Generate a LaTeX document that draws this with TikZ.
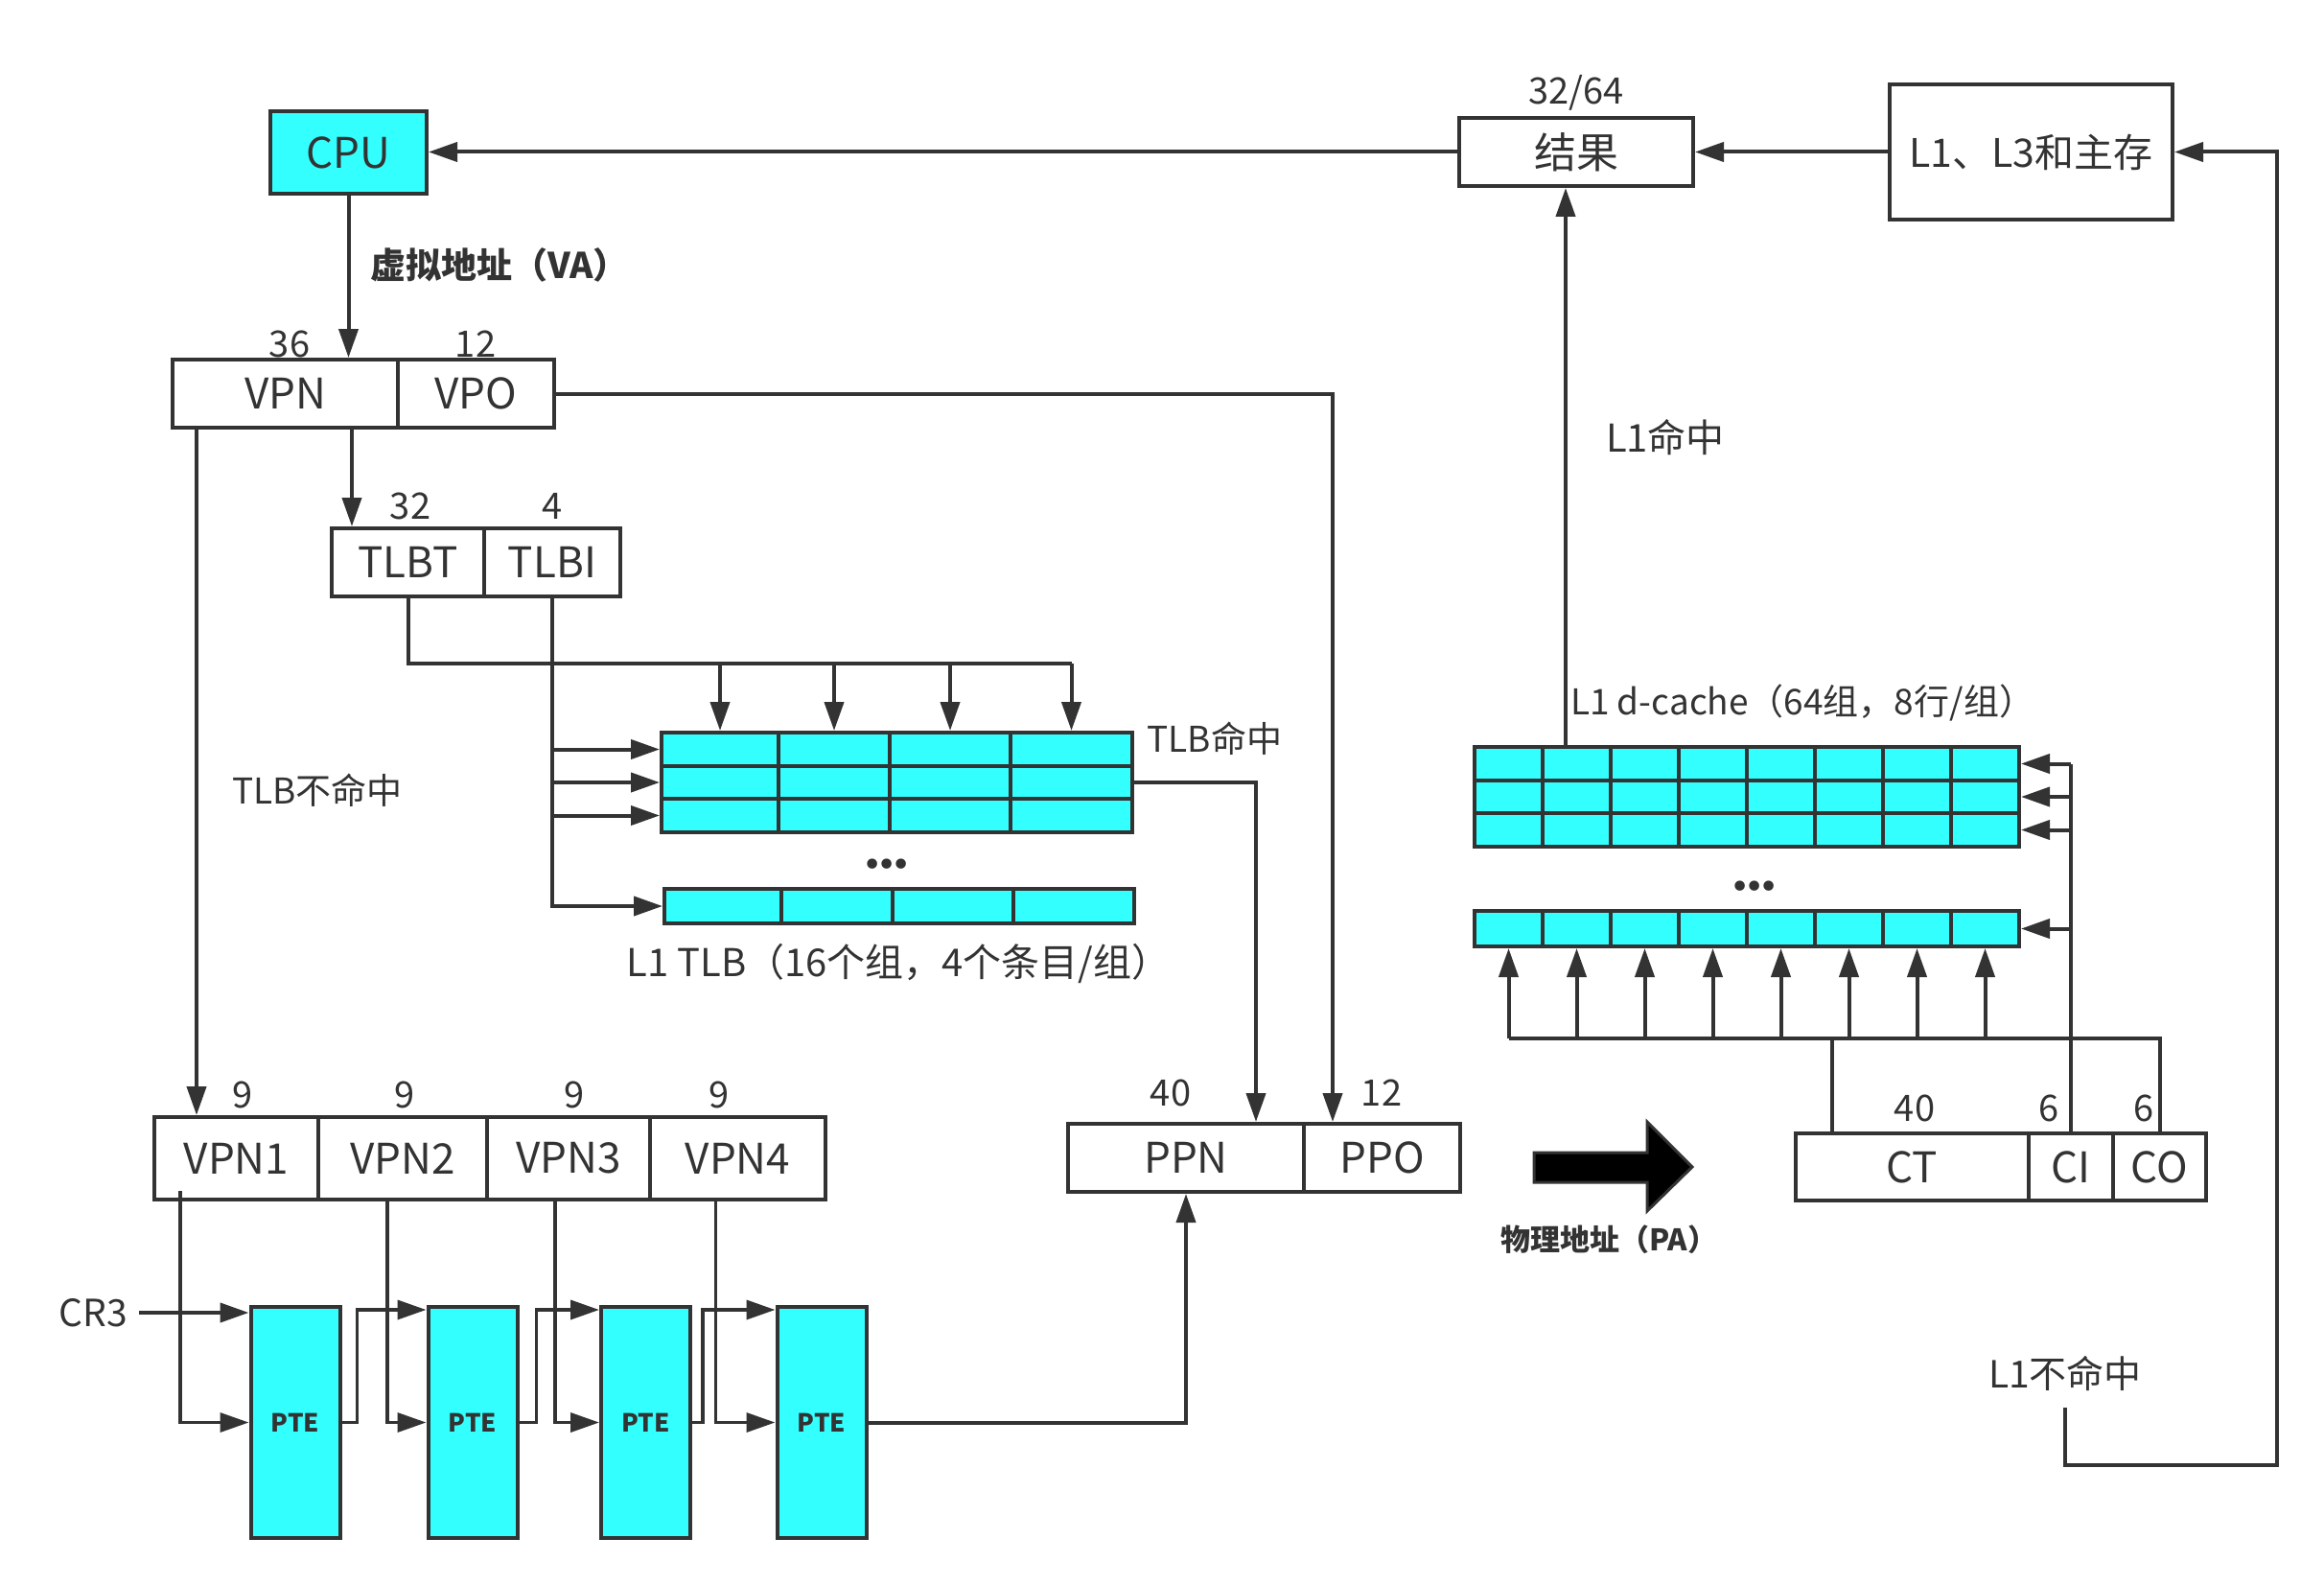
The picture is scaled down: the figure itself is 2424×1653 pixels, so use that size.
\documentclass[tikz,border=0pt]{standalone}
\usepackage{fontspec}
\setmainfont{Noto Sans CJK SC}
\newfontfamily\dejavu{DejaVu Sans}
\usetikzlibrary{arrows.meta}
\definecolor{lc}{HTML}{333333}
\definecolor{cy}{HTML}{33FFFF}
\begin{document}
\begin{tikzpicture}[x=1pt,y=-1pt,
  box/.style={draw=lc, line width=4pt, inner sep=0pt, text=lc, font=\fontsize{44}{52}\selectfont},
  cell/.style={draw=lc, line width=4pt, fill=cy, inner sep=0pt, anchor=north west},
  ln/.style={draw=lc, color=lc, line width=4pt},
  arr/.style={draw=lc, color=lc, line width=4pt, -{Triangle[length=30pt,width=20pt]}},
  lbl/.style={text=lc, inner sep=0pt, font=\fontsize{38}{46}\selectfont},
  num/.style={text=lc, inner sep=0pt, font=\fontsize{38}{46}\selectfont},
  bl/.style={text=lc, inner sep=0pt, font=\bfseries\fontsize{37}{44}\selectfont},
]
\useasboundingbox[fill=white] (0,0) rectangle (2424,1653);

% ---- top row ----
\node[box, fill=cy, minimum width=163pt, minimum height=86pt] (cpu) at (363.5,159) {CPU};
\node[box, minimum width=244pt, minimum height=71pt] (res) at (1644,158.5) {结果};
\node[box, minimum width=295pt, minimum height=141pt, font=\fontsize{41}{48}\selectfont] (mem) at (2118.5,158.5) {L1、L3和主存};
\node[num] at (1644,97) {32/64};

% ---- VA ----
\node[box, minimum width=235pt, minimum height=71pt] (vpn) at (297.5,410.5) {VPN};
\node[box, minimum width=163pt, minimum height=71pt] (vpo) at (496.5,410.5) {VPO};
\node[num] at (302,359) {36};
\node[num] at (496,359) {12};
\node[bl] (va) at (521,276) {虚拟地址（VA）};

% ---- TLBT / TLBI ----
\node[box, minimum width=159pt, minimum height=71pt] (tlbt) at (425.5,586.5) {TLBT};
\node[box, minimum width=142pt, minimum height=71pt] (tlbi) at (576,586.5) {TLBI};
\node[num] at (428,528) {32};
\node[num] at (576,528) {4};

% ---- TLB grid ----
\foreach \r/\ya/\yb in {1/762/797, 2/797/831, 3/831/866}
  \foreach \c/\xa/\xb in {1/688/810, 2/810/926, 3/926/1052, 4/1052/1179}
    \node[cell, minimum width={(\xb-\xa)*1pt}, minimum height={(\yb-\ya)*1pt}] (t\r\c) at (\xa,\ya) {};
\foreach \c/\xa/\xb in {1/691/813, 2/813/929, 3/929/1055, 4/1055/1181}
  \node[cell, minimum width={(\xb-\xa)*1pt}, minimum height=36pt] (b\c) at (\xa,925) {};
\node[text=lc, inner sep=0pt, font=\dejavu\fontsize{36}{40}\selectfont] at (925,905) {•\kern-6pt•\kern-6pt•};
\node[lbl, font=\fontsize{40}{48}\selectfont] at (937,1005) {L1 TLB（16个组，4个条目/组）};
\node[lbl, font=\fontsize{37}{44}\selectfont] at (1267,770) {TLB命中};
\node[lbl, font=\fontsize{37}{44}\selectfont] at (331,824) {TLB不命中};

% ---- VPN1..4 ----
\node[box, minimum width=171pt, minimum height=86pt] (vpn1) at (246.5,1208) {VPN1};
\node[box, minimum width=176pt, minimum height=86pt] (vpn2) at (420,1208) {VPN2};
\node[box, minimum width=170pt, minimum height=86pt] (vpn3) at (593,1208) {VPN3};
\node[box, minimum width=183pt, minimum height=86pt] (vpn4) at (769.5,1208) {VPN4};
\foreach \x in {253,422,599,750} \node[num] at (\x,1142) {9};

% ---- PTEs ----
\foreach \i/\x in {1/308, 2/493, 3/673.5, 4/857}
  \node[box, fill=cy, minimum width=93pt, minimum height=241pt, font=\bfseries\fontsize{26}{30}\selectfont] (pte\i) at (\x,1483.5) {PTE};
\node[lbl, font=\fontsize{39}{46}\selectfont] (cr3) at (97,1369) {CR3};

% ---- PA ----
\node[box, minimum width=246pt, minimum height=71pt] (ppn) at (1237,1207.5) {PPN};
\node[box, minimum width=163pt, minimum height=71pt] (ppo) at (1441.5,1207.5) {PPO};
\node[num] at (1221,1140) {40};
\node[num] at (1441,1140) {12};
\filldraw[draw=lc, fill=black, line width=3pt] (1600,1202) -- (1718,1202) -- (1718,1170) -- (1765,1217) -- (1718,1263) -- (1718,1233) -- (1600,1233) -- cycle;
\node[bl, font=\bfseries\fontsize{31}{36}\selectfont] at (1678,1293) {物理地址（PA）};

% ---- d-cache ----
\foreach \r/\ya/\yb in {1/777/812, 2/812/846, 3/846/881}
  \foreach \k in {1,...,8}
    \node[cell, minimum width=71pt, minimum height={(\yb-\ya)*1pt}] (c\r\k) at ({1536+71*(\k-1)},\ya) {};
\foreach \k in {1,...,8}
  \node[cell, minimum width=71pt, minimum height=37pt] (d\k) at ({1536+71*(\k-1)},948) {};
\node[text=lc, inner sep=0pt, font=\dejavu\fontsize{36}{40}\selectfont] at (1830,928) {•\kern-6pt•\kern-6pt•};
\node[lbl, font=\fontsize{37}{44}\selectfont] at (1880,733) {L1 d-cache（64组，8行/组）};
\node[lbl, font=\fontsize{40}{48}\selectfont] at (1737,456) {L1命中};

% ---- CT CI CO ----
\node[box, minimum width=243pt, minimum height=70pt] (ct) at (1994.5,1217) {CT};
\node[box, minimum width=88pt, minimum height=70pt] (ci) at (2160,1217) {CI};
\node[box, minimum width=97pt, minimum height=70pt] (co) at (2252.5,1217) {CO};
\node[num] at (1997,1156) {40};
\node[num] at (2137,1156) {6};
\node[num] at (2236,1156) {6};
\node[lbl, font=\fontsize{39}{46}\selectfont] (miss) at (2154,1432) {L1不命中};

% ================= connectors =================
\draw[arr] (mem.west) -- (res.east);
\draw[arr] (res.west) -- (res.west -| cpu.east);
\draw[arr] (cpu.south) -- (cpu.south |- vpn.north);

\coordinate (vl) at ([xshift=27pt]vpn.south west);
\draw[arr] (vl) -- (vl |- vpn1.north);
\coordinate (vm) at ([xshift=69.5pt]vpn.south);
\draw[arr] (vm) -- (vm |- tlbt.north);
\coordinate (vo) at ([xshift=-51.5pt]ppo.north);
\draw[arr] (vpo.east) -| (vo);

\coordinate (bus) at (0,692);
\draw[ln] (tlbt.south) |- (t14.north |- bus);
\foreach \c in {1,...,4} \draw[arr] (t1\c.north |- bus) -- (t1\c.north);
\draw[arr] (tlbi.south) |- (b1.west);
\foreach \r in {1,2,3} \draw[arr] (tlbi.south |- t\r1.west) -- (t\r1.west);
\coordinate (ph) at ([xshift=73pt]ppn.north);
\draw[arr] (t24.east) -| (ph);

\coordinate (v1) at ([xshift=29pt,yshift=11pt]vpn1.south west);
\draw[arr, line width=3.5pt] (v1) |- (pte1.west);
\draw[arr, line width=3.5pt] ([xshift=74pt]vpn2.south west) |- (pte2.west);
\draw[arr, line width=3.5pt] ([xshift=73pt]vpn3.south west) |- (pte3.west);
\draw[arr, line width=3.5pt] ([xshift=70.5pt]vpn4.south west) |- (pte4.west);
\draw[arr] ([xshift=12pt]cr3.east) -- (cr3.east -| pte1.west);
\draw[arr, line width=3.5pt] (pte1.east) -- ++(16,0) |- ([yshift=-5pt]pte2.north west);
\draw[arr, line width=3.5pt] (pte2.east) -- ++(18,0) |- ([yshift=-5pt]pte3.north west);
\draw[arr, line width=3.5pt] (pte3.east) -- ++(11,0) |- ([yshift=-5pt]pte4.north west);
\draw[arr] (pte4.east) -| (ppn.south);

\draw[ln] (ci.north) -- (ci.north |- c18.east);
\foreach \r in {1,2,3} \draw[arr] (ci.north |- c\r8.east) -- (c\r8.east);
\draw[arr] (ci.north |- d8.east) -- (d8.east);
\coordinate (hb) at (0,1083);
\draw[ln] (co.north) |- (d1.south |- hb);
\coordinate (ctx) at ([xshift=-83.5pt]ct.north);
\draw[ln] (ctx) -- (ctx |- hb);
\foreach \k in {1,...,8} \draw[arr] (d\k.south |- hb) -- (d\k.south);

\coordinate (lh) at ([xshift=22pt]c11.north east);
\draw[arr] (lh) -- (lh |- res.south);

\coordinate (rc) at (2375,1528);
\draw[arr] ([yshift=-18pt]miss.south) |- (rc) |- (mem.east);
\end{tikzpicture}
\end{document}
